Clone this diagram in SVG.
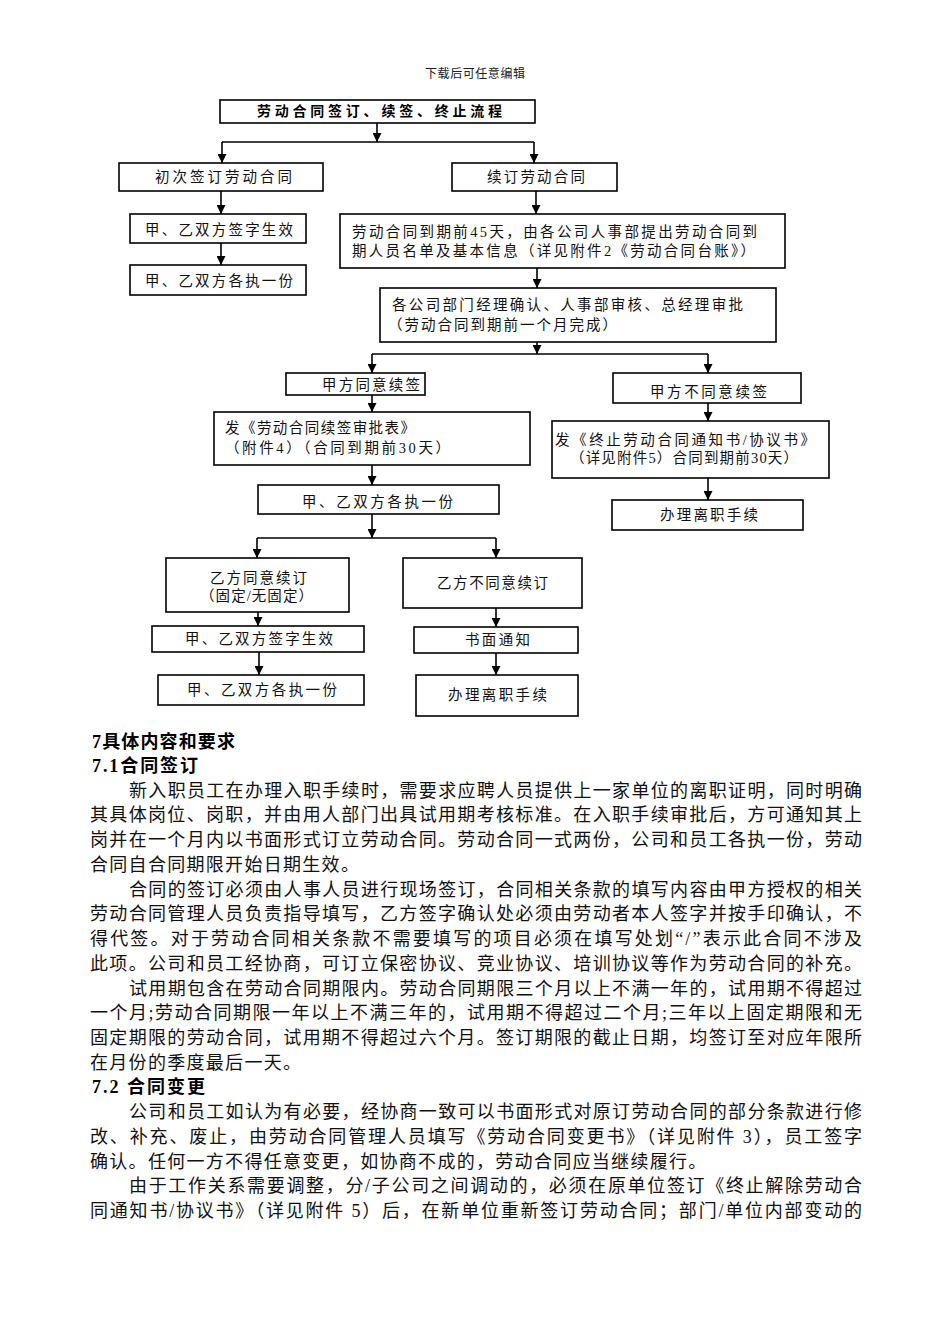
<svg xmlns="http://www.w3.org/2000/svg" width="950" height="1344" viewBox="0 0 950 1344">
<style>
.bg{fill:#fff}
.box{fill:#fff;stroke:#000;stroke-width:1.6}
.t{font-family:"Liberation Serif","Noto Sans CJK SC",serif;font-size:14.5px;fill:#111}
.tb{font-family:"Liberation Sans","Noto Sans CJK SC",sans-serif;font-size:14px;font-weight:bold;fill:#000}
.hdr{font-family:"Liberation Serif","Noto Sans CJK SC",serif;font-size:12px;fill:#222}
.body{font-family:"Liberation Serif","Noto Sans CJK SC",serif;font-size:18px;fill:#111}
.nat{letter-spacing:1.3px}
.h{font-family:"Liberation Serif","Noto Sans CJK SC",serif;font-size:18px;font-weight:bold;fill:#000}
.c{fill:none;stroke:#000;stroke-width:1.6}
</style>
<defs>
<marker id="arr" viewBox="0 0 10 10" refX="10" refY="5" markerWidth="9" markerHeight="9" markerUnits="userSpaceOnUse" orient="auto">
<path d="M0,0 L10,5 L0,10 z" fill="#000"/>
</marker>
</defs>
<rect class="bg" x="0" y="0" width="950" height="1344"/>
<text class="hdr" x="425" y="78" textLength="100" lengthAdjust="spacing">下载后可任意编辑</text>

<g id="connectors">
<path class="c" d="M377,123 V142" marker-end="url(#arr)"/>
<path class="c" d="M222,142 H534"/>
<path class="c" d="M222,142 V163" marker-end="url(#arr)"/>
<path class="c" d="M534,142 V163" marker-end="url(#arr)"/>
<path class="c" d="M221,191 V214" marker-end="url(#arr)"/>
<path class="c" d="M221,243 V265" marker-end="url(#arr)"/>
<path class="c" d="M536,191 V214" marker-end="url(#arr)"/>
<path class="c" d="M537,268 V288" marker-end="url(#arr)"/>
<path class="c" d="M537,342 V354" marker-end="url(#arr)"/>
<path class="c" d="M372,354 H708"/>
<path class="c" d="M372,354 V373" marker-end="url(#arr)"/>
<path class="c" d="M708,354 V373" marker-end="url(#arr)"/>
<path class="c" d="M372,395 V412" marker-end="url(#arr)"/>
<path class="c" d="M372,465 V485" marker-end="url(#arr)"/>
<path class="c" d="M372,514 V538" marker-end="url(#arr)"/>
<path class="c" d="M257,538 H496"/>
<path class="c" d="M257,538 V558" marker-end="url(#arr)"/>
<path class="c" d="M496,538 V558" marker-end="url(#arr)"/>
<path class="c" d="M708,403 V421" marker-end="url(#arr)"/>
<path class="c" d="M708,478 V500" marker-end="url(#arr)"/>
<path class="c" d="M258,612 V626" marker-end="url(#arr)"/>
<path class="c" d="M259,652 V675" marker-end="url(#arr)"/>
<path class="c" d="M496,608 V627" marker-end="url(#arr)"/>
<path class="c" d="M496,653 V675" marker-end="url(#arr)"/>
</g>

<g id="title">
<rect class="box" x="220" y="100" width="315" height="23"/>
<text class="tb" x="257" y="116" textLength="245" lengthAdjust="spacing">劳动合同签订、续签、终止流程</text>
</g>
<g id="n-first">
<rect class="box" x="119" y="163" width="204" height="28"/>
<text class="t" x="155" y="182" textLength="137" lengthAdjust="spacing">初次签订劳动合同</text>
</g>
<g id="n-renew">
<rect class="box" x="452" y="163" width="165" height="28"/>
<text class="t" x="487" y="182" textLength="98" lengthAdjust="spacing">续订劳动合同</text>
</g>
<g id="n-sign1">
<rect class="box" x="130" y="214" width="176" height="29"/>
<text class="t" x="145" y="235" textLength="148" lengthAdjust="spacing">甲、乙双方签字生效</text>
</g>
<g id="n-hold1">
<rect class="box" x="130" y="265" width="176" height="30"/>
<text class="t" x="145" y="286" textLength="148" lengthAdjust="spacing">甲、乙双方各执一份</text>
</g>
<g id="n-45days">
<rect class="box" x="340" y="214" width="445" height="54"/>
<text class="t" x="352" y="237" textLength="405" lengthAdjust="spacing">劳动合同到期前45天，由各公司人事部提出劳动合同到</text>
<text class="t" x="352" y="256" textLength="403" lengthAdjust="spacing">期人员名单及基本信息（详见附件2《劳动合同台账》）</text>
</g>
<g id="n-approve">
<rect class="box" x="380" y="288" width="396" height="54"/>
<text class="t" x="392" y="310" textLength="351" lengthAdjust="spacing">各公司部门经理确认、人事部审核、总经理审批</text>
<text class="t" x="388" y="330" textLength="229" lengthAdjust="spacing">（劳动合同到期前一个月完成）</text>
</g>
<g id="n-a-agree">
<rect class="box" x="286" y="373" width="139" height="22"/>
<text class="t" x="322" y="390" textLength="98" lengthAdjust="spacing">甲方同意续签</text>
</g>
<g id="n-form">
<rect class="box" x="214" y="412" width="316" height="53"/>
<text class="t" x="225" y="433" textLength="190" lengthAdjust="spacing">发《劳动合同续签审批表》</text>
<text class="t" x="225" y="453" textLength="225" lengthAdjust="spacing">（附件4）（合同到期前30天）</text>
</g>
<g id="n-hold2">
<rect class="box" x="258" y="485" width="241" height="29"/>
<text class="t" x="302" y="507" textLength="151" lengthAdjust="spacing">甲、乙双方各执一份</text>
</g>
<g id="n-a-disagree">
<rect class="box" x="613" y="373" width="188" height="30"/>
<text class="t" x="650" y="397" textLength="117" lengthAdjust="spacing">甲方不同意续签</text>
</g>
<g id="n-terminate">
<rect class="box" x="552" y="421" width="277" height="57"/>
<text class="t" x="555" y="445" textLength="260" lengthAdjust="spacing">发《终止劳动合同通知书/协议书》</text>
<text class="t" x="570" y="463" textLength="228" lengthAdjust="spacing">（详见附件5）合同到期前30天）</text>
</g>
<g id="n-leave1">
<rect class="box" x="612" y="500" width="191" height="30"/>
<text class="t" x="660" y="520" textLength="98" lengthAdjust="spacing">办理离职手续</text>
</g>
<g id="n-b-agree">
<rect class="box" x="166" y="558" width="183" height="54"/>
<text class="t" x="210" y="583" textLength="97" lengthAdjust="spacing">乙方同意续订</text>
<text class="t" x="200" y="601" textLength="113" lengthAdjust="spacing">（固定/无固定）</text>
</g>
<g id="n-sign2">
<rect class="box" x="152" y="626" width="212" height="26"/>
<text class="t" x="185" y="644" textLength="148" lengthAdjust="spacing">甲、乙双方签字生效</text>
</g>
<g id="n-hold3">
<rect class="box" x="158" y="675" width="206" height="30"/>
<text class="t" x="187" y="695" textLength="150" lengthAdjust="spacing">甲、乙双方各执一份</text>
</g>
<g id="n-b-disagree">
<rect class="box" x="403" y="558" width="179" height="50"/>
<text class="t" x="437" y="588" textLength="111" lengthAdjust="spacing">乙方不同意续订</text>
</g>
<g id="n-notice">
<rect class="box" x="414" y="627" width="164" height="26"/>
<text class="t" x="465" y="645" textLength="65" lengthAdjust="spacing">书面通知</text>
</g>
<g id="n-leave2">
<rect class="box" x="416" y="675" width="162" height="41"/>
<text class="t" x="448" y="700" textLength="99" lengthAdjust="spacing">办理离职手续</text>
</g>

<g id="body-text">
<text class="h" x="92" y="748" textLength="143" lengthAdjust="spacing">7具体内容和要求</text>
<text class="h" x="92" y="772" textLength="106" lengthAdjust="spacing">7.1合同签订</text>
<text class="body" x="129" y="797" textLength="733" lengthAdjust="spacing">新入职员工在办理入职手续时，需要求应聘人员提供上一家单位的离职证明，同时明确</text>
<text class="body" x="90" y="821" textLength="772" lengthAdjust="spacing">其具体岗位、岗职，并由用人部门出具试用期考核标准。在入职手续审批后，方可通知其上</text>
<text class="body" x="90" y="846" textLength="772" lengthAdjust="spacing">岗并在一个月内以书面形式订立劳动合同。劳动合同一式两份，公司和员工各执一份，劳动</text>
<text class="body nat" x="90" y="871">合同自合同期限开始日期生效。</text>
<text class="body" x="129" y="896" textLength="733" lengthAdjust="spacing">合同的签订必须由人事人员进行现场签订，合同相关条款的填写内容由甲方授权的相关</text>
<text class="body" x="90" y="920" textLength="772" lengthAdjust="spacing">劳动合同管理人员负责指导填写，乙方签字确认处必须由劳动者本人签字并按手印确认，不</text>
<text class="body" x="90" y="945" textLength="772" lengthAdjust="spacing">得代签。对于劳动合同相关条款不需要填写的项目必须在填写处划“/”表示此合同不涉及</text>
<text class="body" x="90" y="970" textLength="772" lengthAdjust="spacing">此项。公司和员工经协商，可订立保密协议、竞业协议、培训协议等作为劳动合同的补充。</text>
<text class="body" x="129" y="995" textLength="733" lengthAdjust="spacing">试用期包含在劳动合同期限内。劳动合同期限三个月以上不满一年的，试用期不得超过</text>
<text class="body" x="90" y="1019" textLength="772" lengthAdjust="spacing">一个月;劳动合同期限一年以上不满三年的，试用期不得超过二个月;三年以上固定期限和无</text>
<text class="body" x="90" y="1044" textLength="772" lengthAdjust="spacing">固定期限的劳动合同，试用期不得超过六个月。签订期限的截止日期，均签订至对应年限所</text>
<text class="body nat" x="90" y="1069">在月份的季度最后一天。</text>
<text class="h" x="92" y="1093" textLength="113" lengthAdjust="spacing">7.2 合同变更</text>
<text class="body" x="129" y="1118" textLength="733" lengthAdjust="spacing">公司和员工如认为有必要，经协商一致可以书面形式对原订劳动合同的部分条款进行修</text>
<text class="body" x="90" y="1143" textLength="772" lengthAdjust="spacing">改、补充、废止，由劳动合同管理人员填写《劳动合同变更书》（详见附件 3），员工签字</text>
<text class="body nat" x="90" y="1168">确认。任何一方不得任意变更，如协商不成的，劳动合同应当继续履行。</text>
<text class="body" x="129" y="1192" textLength="733" lengthAdjust="spacing">由于工作关系需要调整，分/子公司之间调动的，必须在原单位签订《终止解除劳动合</text>
<text class="body" x="90" y="1217" textLength="772" lengthAdjust="spacing">同通知书/协议书》（详见附件 5）后，在新单位重新签订劳动合同；部门/单位内部变动的</text>
</g>
</svg>
